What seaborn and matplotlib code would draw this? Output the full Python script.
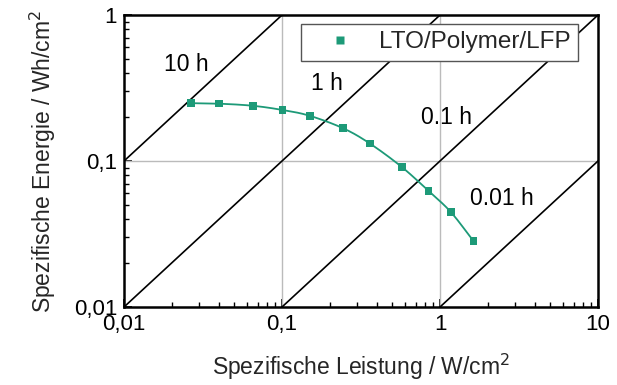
import numpy as np
import pandas as pd
import matplotlib
matplotlib.use("Agg")
import matplotlib.pyplot as plt
import seaborn as sns
from matplotlib.ticker import LogLocator, FixedLocator, FixedFormatter, NullFormatter

# Ragone data: specific power (W/cm^2) vs specific energy (Wh/cm^2)
power = [0.0265, 0.0399, 0.0653, 0.101, 0.150, 0.244, 0.359, 0.573, 0.847, 1.169, 1.625]
energy = [0.249, 0.247, 0.239, 0.2235, 0.204, 0.1675, 0.132, 0.091, 0.0623, 0.0448, 0.0284]
series_name = "LTO/Polymer/LFP"

# Discharge-time iso-lines (E = P * t)
hours = [10, 1, 0.1, 0.01]
hour_labels = ["10 h", "1 h", "0.1 h", "0.01 h"]
label_pos = [(0.0249, 0.461), (0.193, 0.342), (1.10, 0.200), (2.46, 0.055)]

tick_vals = [0.01, 0.1, 1, 10]
xtick_labels = ["0,01", "0,1", "1", "10"]
ytick_labels = ["0,01", "0,1", "1"]

sns.set_theme(style="white")
plt.rcParams["font.family"] = ["Liberation Sans", "DejaVu Sans"]

FS = 16.5
green = "#1d9a78"

fig = plt.figure(figsize=(6.17, 3.85), dpi=100)
ax = fig.add_axes([0.201, 0.2026, 0.7682, 0.7584])

ax.set_xscale("log")
ax.set_yscale("log")
ax.set_xlim(0.01, 10)
ax.set_ylim(0.01, 1)

# grid at major decades
for v in tick_vals[1:-1]:
    ax.axvline(v, color="#bbbbbb", lw=1.0, zorder=1)
ax.axhline(0.1, color="#bbbbbb", lw=1.0, zorder=1)

# iso-time lines
p_line = np.logspace(-3, 2, 50)
for t, lab, (lx, ly) in zip(hours, hour_labels, label_pos):
    ax.plot(p_line, p_line * t, color="black", lw=1.2, zorder=2)
    ax.text(lx, ly, lab, fontsize=FS, ha="center", va="center", color="black", zorder=3)

# smooth curve through the measured points (Catmull-Rom in log space)
lx = np.log10(power)
ly = np.log10(energy)
pts = np.column_stack([lx, ly])
ext = np.vstack([2 * pts[0] - pts[1], pts, 2 * pts[-1] - pts[-2]])
curve = []
for i in range(1, len(ext) - 2):
    p0, p1, p2, p3 = ext[i - 1], ext[i], ext[i + 1], ext[i + 2]
    for s in np.linspace(0, 1, 20, endpoint=False):
        curve.append(0.5 * ((2 * p1) + (-p0 + p2) * s
                            + (2 * p0 - 5 * p1 + 4 * p2 - p3) * s ** 2
                            + (-p0 + 3 * p1 - 3 * p2 + p3) * s ** 3))
curve.append(pts[-1])
curve = 10 ** np.array(curve)
ax.plot(curve[:, 0], curve[:, 1], color=green, lw=1.3, zorder=4)

df = pd.DataFrame({"power": power, "energy": energy, "series": series_name})
sns.scatterplot(data=df, x="power", y="energy", hue="series", palette=[green],
                marker="s", s=30, edgecolor="none", ax=ax, zorder=5)

leg = ax.legend(loc="upper right", bbox_to_anchor=(0.958, 0.969), fontsize=17.5,
                frameon=True, fancybox=False, framealpha=1, edgecolor="#555555",
                handletextpad=0.3, borderpad=0.3, borderaxespad=0.0,
                handlelength=2.6, markerscale=1.0)
leg.get_frame().set_linewidth(1.0)

ax.xaxis.set_major_locator(FixedLocator(tick_vals))
ax.xaxis.set_major_formatter(FixedFormatter(xtick_labels))
ax.yaxis.set_major_locator(FixedLocator(tick_vals[:3]))
ax.yaxis.set_major_formatter(FixedFormatter(ytick_labels))
ax.xaxis.set_minor_locator(LogLocator(base=10, subs=np.arange(2, 10)))
ax.yaxis.set_minor_locator(LogLocator(base=10, subs=np.arange(2, 10)))
ax.xaxis.set_minor_formatter(NullFormatter())
ax.yaxis.set_minor_formatter(NullFormatter())
ax.tick_params(which="both", direction="in", top=False, right=False,
               bottom=True, left=True, colors="black", labelsize=16)
ax.tick_params(axis="x", which="major", length=6, width=1.2, pad=5)
ax.tick_params(axis="y", which="major", length=6, width=1.2, pad=5)
ax.tick_params(which="minor", length=3.5, width=1.0)

for sp in ax.spines.values():
    sp.set_color("black")
    sp.set_linewidth(1.8)

ax.set_xlabel("Spezifische Leistung / W/cm$^2$", fontsize=FS, labelpad=12)
ax.set_ylabel("Spezifische Energie / Wh/cm$^2$", fontsize=FS, labelpad=11)

fig.savefig("out.png", dpi=100)
